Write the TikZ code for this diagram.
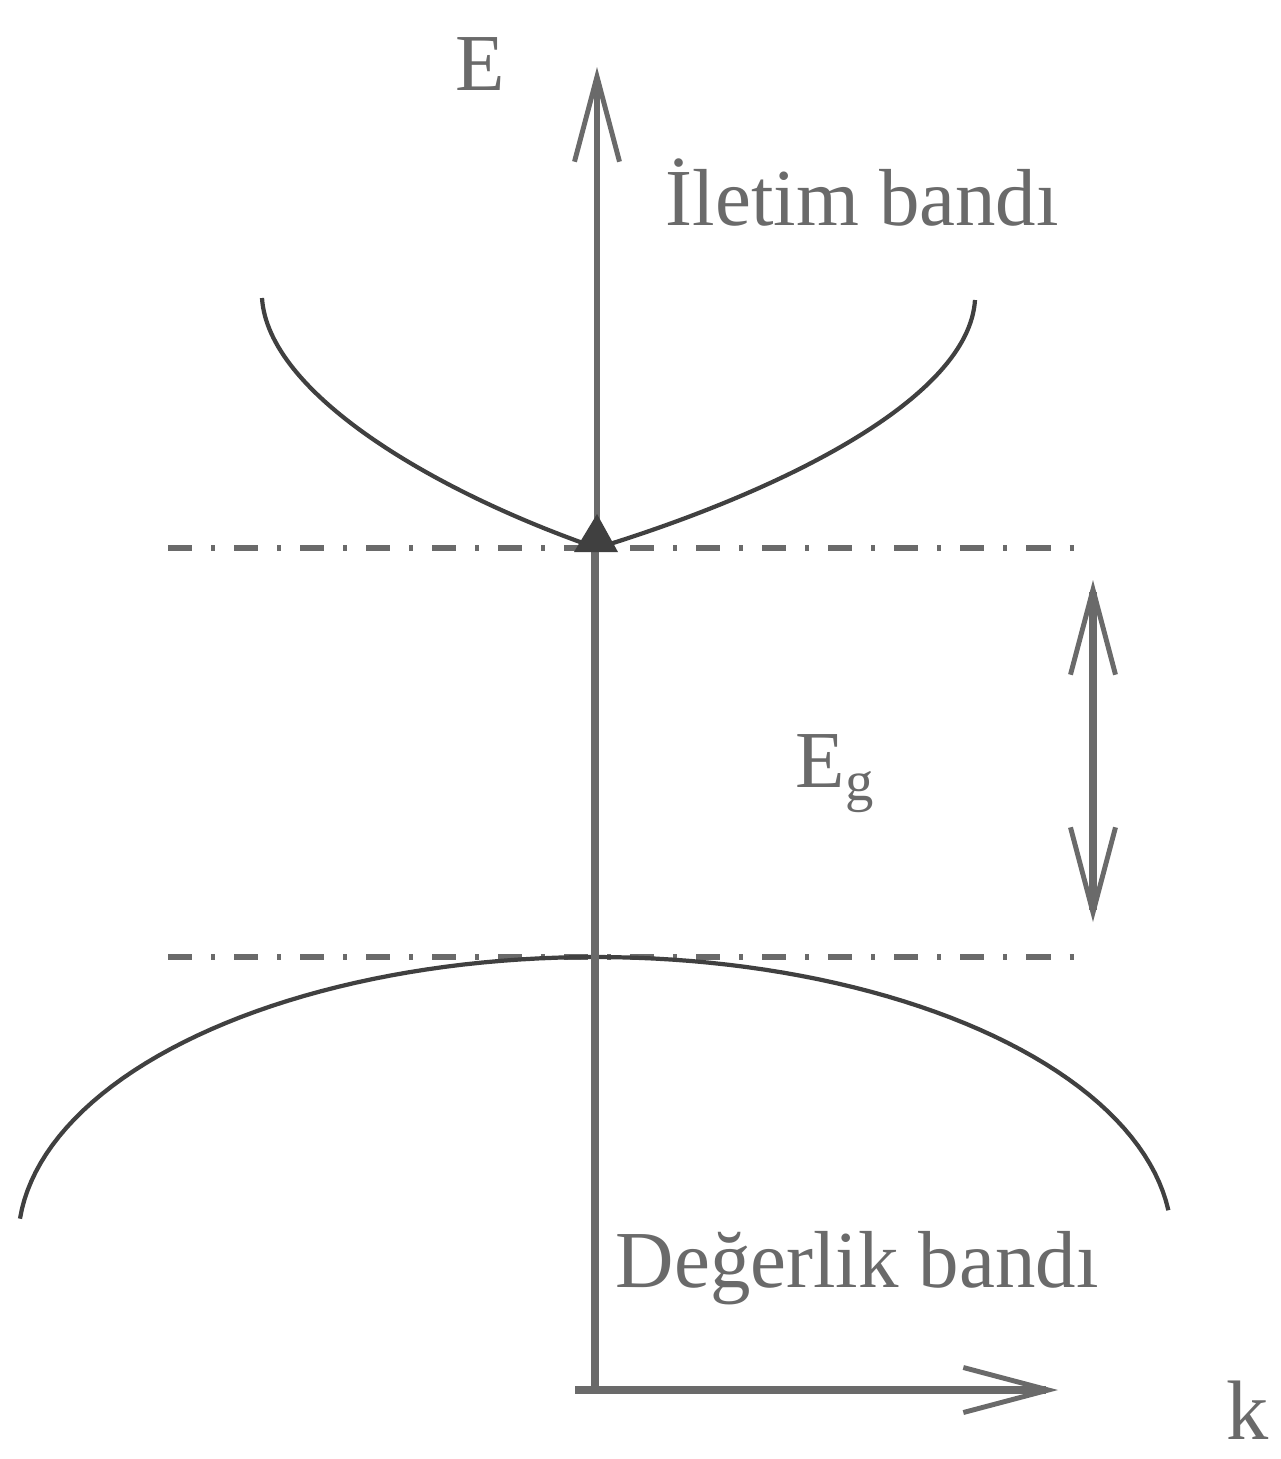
\documentclass[tikz,border=0pt]{standalone}
\usepackage{fontspec}
\setmainfont{Liberation Serif}
\usepackage{tikz}
\usetikzlibrary{arrows.meta, positioning, calc}
\definecolor{AxisGray}{HTML}{6A6A6A}
\definecolor{CurveGray}{HTML}{404040}
\definecolor{TextGray}{HTML}{6A6A6A}

\tikzset{
    bandlabel/.style={text=TextGray, font=\fontsize{23}{27}\selectfont, inner sep=0pt},
    axisline/.style={draw=AxisGray, line width=2.4pt},
    bandcurve/.style={draw=CurveGray, line width=1.2pt},
    levelline/.style={draw=AxisGray, line width=1.8pt,
        dash pattern=on 0.24cm off 0.19cm on 0.04cm off 0.19cm},
    openhead/.style={-{Straight Barb[length=8.5mm, width=4.5mm, line width=1.4pt]}}
}

\begin{document}
\begin{tikzpicture}[x=0.01cm, y=-0.01cm]
    \useasboundingbox (0,0) rectangle (1281,1459);

    % Axes points
    \coordinate (Origin) at (595,1390);
    \coordinate (KStart) at (575,1390);
    \coordinate (KTip) at (1058,1390);
    \coordinate (CBMin) at (597,548);
    \coordinate (ETip) at (597,67);
    \coordinate (GapTop) at (1093,580);
    \coordinate (GapBottom) at (1093,922);

    % Band edges
    \draw[levelline] (168,548) -- (1088,548);
    \draw[levelline] (168,957) -- (1088,957);

    % Conduction band
    \draw[bandcurve] (262,298) .. controls (268,392) and (430,490) .. (CBMin)
        .. controls (786,490) and (969,397) .. (975,300);

    % Valence band
    \draw[bandcurve] plot[domain=184.7:353.6, samples=90]
        ({595+577*cos(\x)}, {1242+285*sin(\x)});

    % Energy axis
    \draw[axisline] (Origin) -- (595,552);
    \draw[axisline, line width=1.5pt, openhead] (CBMin) -- (ETip);
    \fill[CurveGray] (574,552) -- (597,514) -- (618,552) -- cycle;

    % Wave vector axis
    \draw[axisline, line width=2.2pt, openhead] (KStart) -- (KTip);

    % Gap arrow
    \draw[axisline, line width=2pt,
        {Straight Barb[length=8.5mm, width=4.5mm, line width=1.4pt]}-{Straight Barb[length=8.5mm, width=4.5mm, line width=1.4pt]}]
        (GapBottom) -- (GapTop);

    % Labels
    \node[bandlabel, anchor=base west] (EnergyLabel) at (455,90) {E};
    \node[bandlabel, anchor=base west, font=\fontsize{24}{28}\selectfont] (KLabel) at (1226,1439) {k};
    \node[bandlabel, anchor=base west] (CondLabel) at (665,225) {İletim bandı};
    \node[bandlabel, anchor=base west] (ValLabel) at (615,1287) {Değerlik bandı};
    \node[bandlabel, anchor=base west] (GapLabel) at (795,787) {E\textsubscript{g}};
\end{tikzpicture}
\end{document}
